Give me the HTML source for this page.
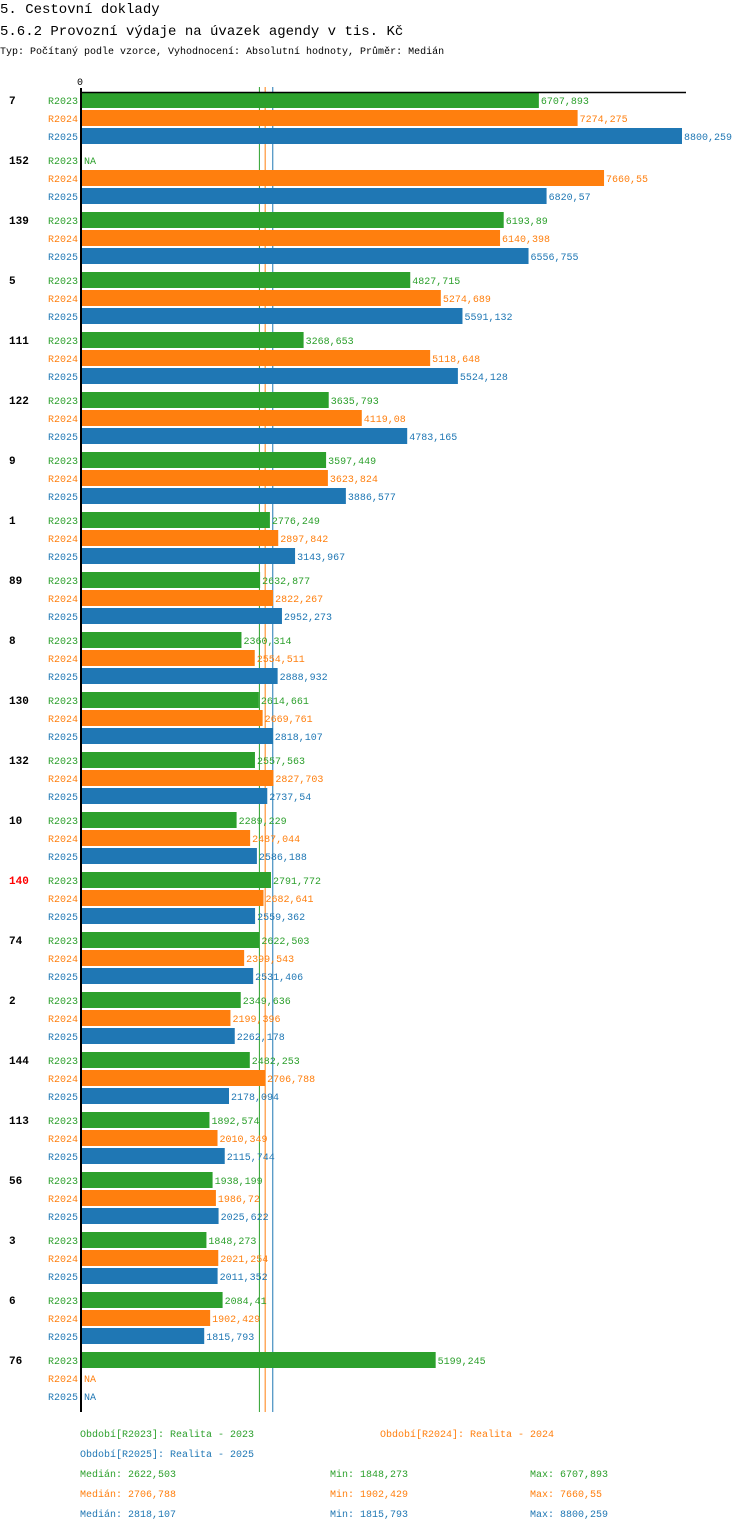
<!DOCTYPE html>
<html><head><meta charset="utf-8"><style>
body{margin:0;background:#fff;width:750px;height:1532px;overflow:hidden;font-family:"Liberation Mono",monospace}
svg text{font-family:"Liberation Mono",monospace}
</style></head><body>
<svg id="chart" width="750" height="1532" xmlns="http://www.w3.org/2000/svg">
<text x="0" y="13" font-size="14" fill="#000">5. Cestovní doklady</text>
<text x="0" y="35" font-size="14" fill="#000">5.6.2 Provozní výdaje na úvazek agendy v tis. Kč</text>
<text x="0" y="54" font-size="10" fill="#000">Typ: Počítaný podle vzorce, Vyhodnocení: Absolutní hodnoty, Průměr: Medián</text>
<text x="80" y="85" font-size="10" text-anchor="middle">0</text>
<g id="marks"></g>
</svg>
<script>
const categories=["7","152","139","5","111","122","9","1","89","8","130","132","10","140","74","2","144","113","56","3","6","76"];
const r2023=[6707.893,null,6193.89,4827.715,3268.653,3635.793,3597.449,2776.249,2632.877,2360.314,2614.661,2557.563,2289.229,2791.772,2622.503,2349.636,2482.253,1892.574,1938.199,1848.273,2084.41,5199.245];
const r2024=[7274.275,7660.55,6140.398,5274.689,5118.648,4119.08,3623.824,2897.842,2822.267,2554.511,2669.761,2827.703,2487.044,2682.641,2399.543,2199.396,2706.788,2010.349,1986.72,2021.254,1902.429,null];
const r2025=[8800.259,6820.57,6556.755,5591.132,5524.128,4783.165,3886.577,3143.967,2952.273,2888.932,2818.107,2737.54,2586.188,2559.362,2531.406,2262.178,2178.094,2115.744,2025.622,2011.352,1815.793,null];
const seriesNames=["R2023","R2024","R2025"];
const medians=[2622.503,2706.788,2818.107];
const mins=["1848,273","1902,429","1815,793"];
const maxs=["6707,893","7660,55","8800,259"];
const medLabels=["2622,503","2706,788","2818,107"];
const colors=["#2ca02c","#ff7f0e","#1f77b4"];
const x0=80,scale=602/8800.259;
const xs=v=>x0+v*scale;
const ys=(g,s)=>100+g*60+s*18;
const NS="http://www.w3.org/2000/svg";
const root=document.getElementById('marks');
function mk(tag,attrs,txt){const e=document.createElementNS(NS,tag);for(const k in attrs)e.setAttribute(k,attrs[k]);if(txt!=null)e.textContent=txt;root.appendChild(e);return e;}
const fmt=v=>String(v).replace('.',',');
const data=[r2023,r2024,r2025];
medians.forEach((m,i)=>{
  const ln=mk('line',{x1:xs(m),x2:xs(m),y1:87,y2:1412,stroke:colors[i],'stroke-width':1});
  
  
});
categories.forEach((c,g)=>{
  const t=mk('text',{x:9,y:ys(g,0)+4,'font-size':11,'font-weight':'bold',fill:c==="140"?"#f00":"#000"},c);
  
  
  for(let s=0;s<3;s++){
    const y=ys(g,s),v=data[s][g];
    const l=mk('text',{x:78,y:y+4,'font-size':10,fill:colors[s],'text-anchor':'end'},seriesNames[s]);
    
    
    if(v==null){
      const n=mk('text',{x:84,y:y+4,'font-size':10,fill:colors[s]},'NA');
      
      
      continue;
    }
    const b=mk('rect',{x:82,y:y-8,width:xs(v)-82,height:16,fill:colors[s]});
    
    
    const vl=mk('text',{x:xs(v)+2,y:y+4,'font-size':10,fill:colors[s]},fmt(v));
    
    
  }
});
const ax=mk('line',{x1:80,x2:686,y1:92.5,y2:92.5,stroke:'#000','stroke-width':1.5});


const ay=mk('line',{x1:81,x2:81,y1:88,y2:1412,stroke:'#000','stroke-width':2});


const leg=[[80,1437,0,"Období[R2023]: Realita - 2023"],[380,1437,1,"Období[R2024]: Realita - 2024"],[80,1457,2,"Období[R2025]: Realita - 2025"]];
leg.forEach(a=>{
  const e=mk('text',{x:a[0],y:a[1],'font-size':10,fill:colors[a[2]]},a[3]);
  
  
});
for(let i=0;i<3;i++){
  const y=1477+i*20;
  const a=mk('text',{x:80,y:y,'font-size':10,fill:colors[i]},'Medián: '+medLabels[i]);
  
  
  const b=mk('text',{x:330,y:y,'font-size':10,fill:colors[i]},'Min: '+mins[i]);
  
  
  const c=mk('text',{x:530,y:y,'font-size':10,fill:colors[i]},'Max: '+maxs[i]);
  
  
}
</script>
</body></html>
